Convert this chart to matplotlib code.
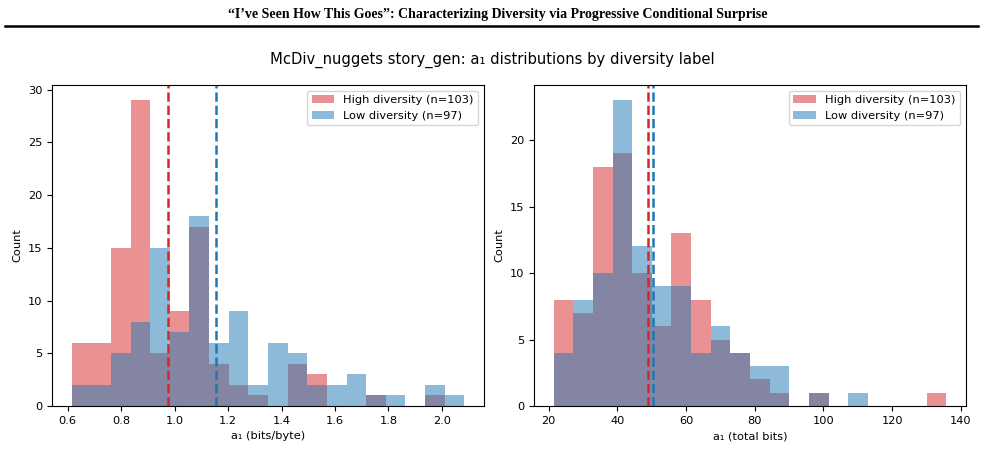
import numpy as np
import matplotlib
matplotlib.use("Agg")
from matplotlib import pyplot as plt

# histogram counts (20 shared bins per panel)
bpb_range = (0.615, 2.084)
bpb_high = [6, 6, 15, 29, 5, 9, 17, 4, 2, 1, 0, 4, 3, 0, 0, 1, 0, 0, 1, 0]
bpb_low = [2, 2, 5, 8, 15, 7, 18, 6, 9, 2, 6, 5, 2, 2, 3, 1, 1, 0, 2, 1]
bpb_mean_high = 0.975
bpb_mean_low = 1.154

bits_range = (21.4, 135.8)
bits_high = [8, 7, 18, 19, 10, 6, 13, 8, 5, 4, 2, 1, 0, 1, 0, 0, 0, 0, 0, 1]
bits_low = [4, 8, 10, 23, 12, 9, 9, 4, 6, 4, 3, 3, 0, 1, 0, 1, 0, 0, 0, 0]
bits_mean_high = 49.0
bits_mean_low = 50.3

labels = ["High diversity (n=103)", "Low diversity (n=97)"]
xlabels = ["a\u2081 (bits/byte)", "a\u2081 (total bits)"]

fs = 8.2
plt.rcParams["font.size"] = fs

fig = plt.figure(figsize=(9.85, 4.66), dpi=100)

# paper header
fig.text(0.5055, 0.968, "\u201cI\u2019ve Seen How This Goes\u201d: Characterizing Diversity via Progressive Conditional Surprise",
         ha="center", va="center", fontsize=10, fontweight="bold", family="Liberation Serif")
fig.add_artist(plt.Line2D([0.005, 0.993], [0.944, 0.944], color="black", linewidth=1.8))

fig.text(0.4995, 0.871, "McDiv_nuggets story_gen: a\u2081 distributions by diversity label",
         ha="center", va="center", fontsize=10.6)

panels = [
    (bpb_range, bpb_high, bpb_low, bpb_mean_high, bpb_mean_low, xlabels[0]),
    (bits_range, bits_high, bits_low, bits_mean_high, bits_mean_low, xlabels[1]),
]
lefts = [0.0528, 0.5421]

for left, (rng, high, low, m_high, m_low, xl) in zip(lefts, panels):
    ax = fig.add_axes([left, 0.1288, 0.4386, 0.6888])
    edges = np.linspace(rng[0], rng[1], len(high) + 1)
    ax.hist(edges[:-1], bins=edges, weights=high, color="tab:red", alpha=0.5, label=labels[0])
    ax.hist(edges[:-1], bins=edges, weights=low, color="tab:blue", alpha=0.5, label=labels[1])
    ax.axvline(m_high, color="tab:red", linestyle="--", linewidth=1.8)
    ax.axvline(m_low, color="tab:blue", linestyle="--", linewidth=1.8)
    ax.set_xlabel(xl, fontsize=fs)
    ax.set_ylabel("Count", fontsize=fs)
    ax.tick_params(labelsize=fs)
    ax.legend(loc="upper right", fontsize=fs)

plt.savefig("out.png", dpi=100)
plt.close()
